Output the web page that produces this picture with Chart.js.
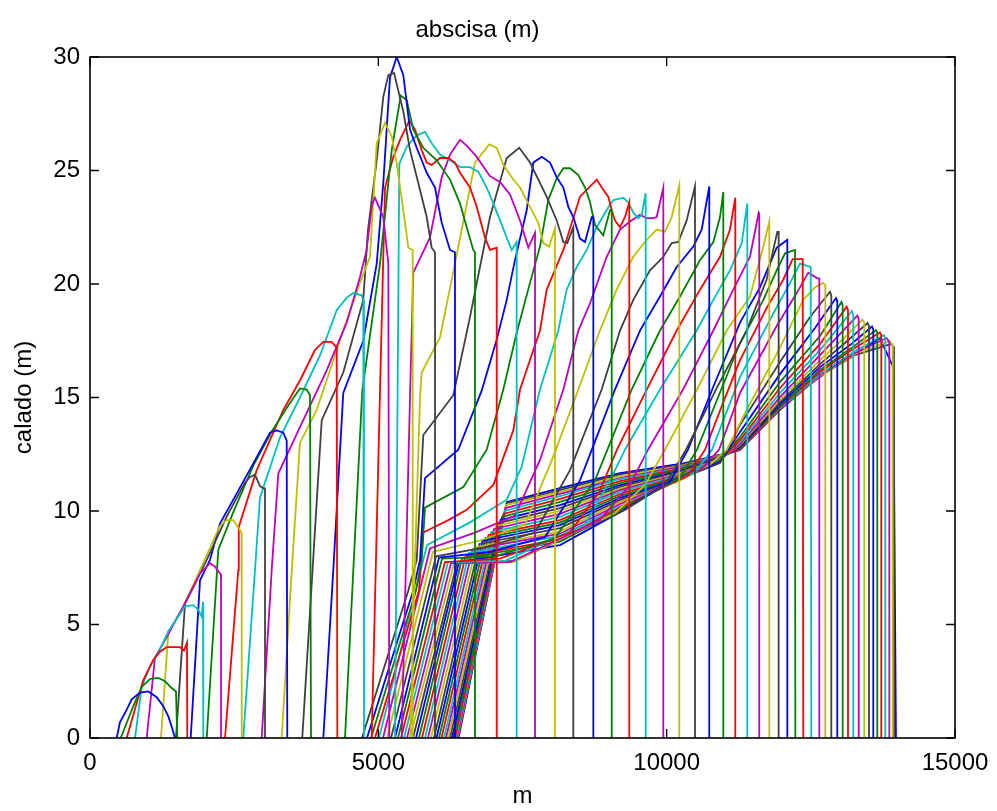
<!DOCTYPE html>
<html>
<head>
<meta charset="utf-8">
<script src="https://cdn.jsdelivr.net/npm/chart.js@4.4.1/dist/chart.umd.min.js"></script>
<style>
  html, body { margin: 0; padding: 0; background: #fff; }
  #wrap { width: 997px; height: 811px; }
</style>
</head>
<body>
<div id="wrap"><canvas id="myChart" width="997" height="811"></canvas></div>
<script>
// depth profiles (abscisa m, calado m), one per time step
var c01 = [[463,0],[520,0.7],[607,1.1],[723,1.7],[867,2.0],[1010,2.05],[1157,1.8],[1271,1.4],[1358,0.95],[1417,0.5],[1474,0]]
var c02 = [[532,0],[751,1.4],[897,2.25],[1040,2.6],[1184,2.65],[1301,2.5],[1417,2.2],[1491,2.05],[1514,0]]
var c03 = [[636,0],[924,2.55],[1098,3.45],[1214,3.8],[1330,4.0],[1561,4.0],[1630,3.85],[1682,4.2],[1687,0]]
var c04 = [[780,0],[897,2.25],[1040,3.15],[1214,3.9],[1358,4.7],[1531,5.35],[1647,5.8],[1791,5.85],[1878,5.65],[1937,5.35],[1960,6.0],[1965,0]]
var c05 = [[983,0],[1127,3.55],[1330,4.45],[1618,5.8],[1908,7.25],[2081,7.7],[2168,7.55],[2254,7.25],[2272,7.2],[2272,0]]
var c06 = [[1231,0],[1358,4.65],[1618,5.8],[1908,7.4],[2254,9.35],[2371,9.6],[2485,9.6],[2601,9.15],[2631,9.0],[2631,0]]
var c07 = [[1491,0],[1647,5.9],[2024,7.85],[2371,9.75],[2687,11.25],[2775,11.5],[2861,11.6],[2948,11.1],[3006,11.0],[3035,11.0],[3035,0]]
var c08 = [[1746,0],[1908,6.95],[2081,7.85],[2254,9.45],[2485,10.5],[2832,12.1],[3121,13.45],[3237,13.55],[3352,13.45],[3411,13.1],[3421,0]]
var c09 = [[2024,0],[2225,8.3],[2485,9.95],[2832,12.0],[3151,13.5],[3439,14.65],[3641,15.4],[3758,15.35],[3815,15.1],[3832,0]]
var c10 = [[2341,0],[2572,7.4],[2580,9.3],[2891,11.8],[3352,14.45],[3641,15.75],[3902,17.1],[4046,17.45],[4191,17.45],[4278,17.2],[4289,0]]
var c11 = [[2658,0],[2861,7.4],[2948,10.6],[3295,13.25],[3641,15.0],[3988,16.85],[4278,18.85],[4451,19.4],[4566,19.6],[4712,19.5],[4739,19.3],[4751,0]]
var c12 = [[2977,0],[3151,7.4],[3265,11.65],[3641,13.7],[4104,16.2],[4451,18.3],[4681,20.3],[4797,21.5],[4890,23.5],[4942,23.8],[5086,22.95],[5173,20.9],[5190,0]]
var c13 = [[3324,0],[3498,7.35],[3641,13.0],[3931,14.45],[4392,17.95],[4681,20.05],[4855,21.2],[4972,26.2],[5116,27.1],[5232,26.5],[5319,25.3],[5433,23.25],[5520,21.6],[5596,21.5],[5596,0]]
var c14 = [[3681,0],[4018,14.0],[4392,16.1],[4739,19.3],[4821,22.4],[4972,25.45],[5086,28.25],[5173,29.2],[5272,29.3],[5433,27.6],[5549,25.9],[5693,24.45],[5839,22.95],[5925,21.6],[5983,21.4],[5983,0]]
var c15 = [[4046,0],[4219,7.4],[4392,15.2],[4739,17.5],[4972,20.9],[5086,24.45],[5202,29.1],[5319,30.0],[5433,29.2],[5549,26.8],[5665,26.0],[5839,24.9],[5983,24.25],[6099,22.7],[6243,21.5],[6329,21.4],[6329,0]]
var c16 = [[4422,0],[4566,7.4],[4722,15.3],[5029,20.9],[5232,25.9],[5388,28.3],[5492,28.1],[5606,26.8],[5780,26.0],[6012,25.45],[6243,24.6],[6416,23.55],[6532,22.5],[6647,21.5],[6676,21.4],[6676,0]]
var c17 = [[4885,0],[5029,15.3],[5076,20.15],[5116,24.25],[5260,25.6],[5376,26.35],[5537,27.2],[5636,26.8],[5752,25.9],[5839,25.35],[5925,25.25],[6069,25.55],[6213,25.55],[6329,25.35],[6416,24.9],[6590,24.25],[6706,23.4],[6849,22.05],[6936,21.5],[7053,21.6],[7053,0]]
var c18 = [[5289,0],[5364,25.3],[5492,26.05],[5665,26.55],[5809,26.7],[5925,26.2],[6069,25.7],[6243,25.45],[6416,25.15],[6590,25.15],[6734,24.95],[6879,24.25],[6994,23.55],[7110,22.8],[7226,22.05],[7313,21.5],[7399,21.85],[7399,0]]
var c19 = [[5405,0],[5549,15.0],[5606,20.5],[5896,22.05],[6099,24.7],[6243,25.7],[6416,26.35],[6532,26.1],[6706,25.6],[6936,24.75],[7110,24.5],[7283,23.95],[7457,22.8],[7601,21.6],[7717,22.25],[7717,0]]
var c20 = [[5554,0],[5636,7.85],[5723,15.0],[5752,16.1],[6069,17.65],[6329,20.9],[6676,25.35],[6924,26.15],[7053,26.0],[7167,25.25],[7340,24.6],[7457,24.25],[7630,23.4],[7774,22.7],[7861,21.8],[7960,21.65],[8064,22.45],[8064,0]]
var c21 = [[4716,0],[5520,6.5],[5665,7.85],[5780,13.35],[6300,15.1],[6590,18.55],[6936,22.95],[7226,25.55],[7444,26.0],[7630,25.35],[7919,23.85],[8093,22.8],[8208,21.85],[8277,21.8],[8381,22.5],[8381,0]]
var c22 = [[4803,0],[5606,6.5],[5723,7.85],[5809,11.45],[6386,12.7],[6792,15.3],[7053,17.55],[7226,19.3],[7369,21.05],[7573,23.25],[7687,25.35],[7833,25.6],[7977,25.35],[8093,24.7],[8208,24.25],[8295,23.4],[8381,22.95],[8497,22.0],[8584,21.85],[8700,22.95],[8728,22.95],[8728,0]]
var c23 = [[4873,0],[5653,6.5],[5752,7.85],[5809,10.15],[6474,11.05],[6879,12.7],[7167,15.35],[7399,17.85],[7630,20.05],[7803,21.65],[7947,23.7],[8093,24.65],[8208,25.1],[8324,25.1],[8468,24.8],[8584,24.25],[8671,23.6],[8757,22.6],[8901,22.15],[9017,23.25],[9047,23.25],[9047,0]]
var c24 = [[4942,0],[5705,6.5],[5780,9.05],[6213,9.6],[6532,10.05],[6994,11.15],[7340,13.55],[7457,15.35],[7803,17.95],[7919,19.75],[8208,21.5],[8497,23.85],[8787,24.6],[8901,24.15],[8988,23.85],[9047,23.25],[9103,22.8],[9190,22.5],[9277,22.95],[9352,23.6],[9352,0]]
var c25 = [[5012,0],[5844,8.5],[6590,9.5],[7226,10.5],[7486,11.95],[7803,15.35],[8121,17.95],[8266,19.75],[8440,20.75],[8613,21.5],[8787,22.5],[9017,23.5],[9075,23.7],[9248,23.8],[9335,23.6],[9421,23.15],[9508,22.9],[9567,23.05],[9636,24.0],[9636,0]]
var c26 = [[5081,0],[5896,8.35],[6676,9.05],[7369,9.8],[7803,12.25],[8208,15.35],[8468,17.95],[8671,19.15],[8960,21.2],[9191,22.4],[9364,22.75],[9537,23.05],[9654,22.9],[9768,22.9],[9827,22.95],[9942,24.25],[9942,0]]
var c27 = [[5150,0],[5948,8.2],[6763,8.7],[7543,9.4],[8011,12.25],[8468,15.35],[8843,17.95],[9133,19.75],[9421,21.2],[9654,21.95],[9827,22.4],[9971,22.3],[10088,22.95],[10219,24.35],[10219,0]]
var c28 = [[5220,0],[6000,8.0],[6850,8.4],[7717,9.05],[8324,11.8],[8873,15.35],[9191,17.95],[9421,19.3],[9711,20.6],[9942,21.2],[10088,21.8],[10202,21.85],[10347,22.8],[10491,24.3],[10491,0]]
var c29 = [[5289,0],[6052,7.95],[6936,8.2],[7890,8.85],[8497,11.35],[9103,15.35],[9537,17.95],[9884,19.45],[10174,20.75],[10462,21.65],[10608,22.4],[10739,24.3],[10739,0]]
var c30 = [[5341,0],[6104,7.9],[7023,8.0],[8064,8.8],[8757,11.35],[9393,15.35],[9884,17.95],[10231,19.45],[10578,21.05],[10809,21.85],[10925,22.95],[10982,24.05],[10982,0]]
var c31 = [[5393,0],[6155,7.75],[7110,7.9],[8324,9.05],[8843,10.9],[9138,12.7],[9654,15.35],[10174,17.95],[10578,19.75],[10925,21.2],[11098,22.4],[11190,23.8],[11190,0]]
var c32 = [[5445,0],[6207,7.75],[7197,7.8],[8584,9.4],[9017,11.35],[9277,12.7],[9884,15.35],[10521,17.95],[10809,19.3],[11098,20.6],[11301,21.8],[11398,23.55],[11398,0]]
var c33 = [[5497,0],[6260,7.7],[7283,7.75],[8843,9.6],[9364,11.15],[9676,12.7],[10283,15.35],[10809,17.95],[11155,19.75],[11445,21.2],[11596,23.15],[11606,23.1],[11606,0]]
var c34 = [[5549,0],[6312,7.7],[7335,7.75],[9103,9.9],[9624,11.15],[9971,12.7],[10526,15.35],[11041,17.95],[11445,19.45],[11676,21.65],[11780,22.75],[11780,0]]
var c35 = [[5601,0],[6364,7.7],[7370,7.8],[9277,10.05],[9971,11.15],[10335,12.7],[10855,15.35],[11387,17.95],[11734,20.2],[11918,22.3],[11942,22.3],[11942,0]]
var c36 = [[5653,0],[6399,7.75],[8150,8.5],[9191,9.95],[10058,11.3],[10370,12.7],[10821,15.55],[11272,18.3],[11618,19.85],[11908,21.6],[12092,21.95],[12092,0]]
var c37 = [[5705,0],[6451,7.9],[8150,8.65],[9191,10.05],[10231,11.45],[10525,12.7],[10890,15.0],[11272,17.4],[11676,19.3],[11908,20.6],[12052,21.35],[12225,21.5],[12231,0]]
var c38 = [[5757,0],[6512,8.0],[8150,8.75],[9191,10.15],[10370,11.55],[10665,12.7],[10960,14.65],[11272,16.65],[11735,18.95],[12023,20.2],[12185,21.1],[12359,21.1],[12369,0]]
var c39 = [[5809,0],[6572,8.15],[8150,8.9],[9191,10.2],[10491,11.7],[10786,12.7],[11029,14.3],[11272,15.9],[11849,18.7],[12139,20.05],[12312,20.9],[12498,20.75],[12508,0]]
var c40 = [[5861,0],[6633,8.3],[8150,9.0],[9191,10.3],[10613,11.85],[10907,12.7],[11098,14.0],[11272,15.2],[11908,18.15],[12255,19.6],[12456,20.5],[12612,20.25],[12647,20.25],[12647,0]]
var c41 = [[5913,0],[6694,8.4],[8150,9.1],[9191,10.4],[10231,11.35],[10751,12.05],[11046,12.7],[11387,14.45],[11965,17.2],[12369,19.3],[12572,19.85],[12711,20.05],[12751,19.95],[12751,0]]
var c42 = [[5965,0],[6754,8.55],[8150,9.25],[9191,10.48],[10231,11.41],[10925,12.11],[11272,13.79],[11965,16.56],[12486,18.55],[12832,19.66],[12855,19.5],[12855,0]]
var c43 = [[6009,0],[6806,8.68],[8150,9.38],[9191,10.57],[10231,11.45],[10925,12.16],[11272,13.48],[11965,16.03],[12572,18.06],[12936,19.38],[12959,19.25],[12959,0]]
var c44 = [[6052,0],[6858,8.81],[8150,9.49],[9191,10.66],[10231,11.5],[10925,12.2],[11272,13.26],[11965,15.68],[12659,17.71],[13032,19.21],[13052,19.05],[13052,0]]
var c45 = [[6095,0],[6911,8.94],[8150,9.6],[9191,10.75],[10231,11.54],[10925,12.22],[11272,13.13],[11965,15.42],[12659,17.36],[13122,19.0],[13144,18.85],[13144,0]]
var c46 = [[6139,0],[6962,9.07],[8150,9.74],[9191,10.84],[10231,11.59],[10925,12.25],[11272,13.04],[11965,15.2],[12659,17.09],[13214,18.81],[13236,18.65],[13236,0]]
var c47 = [[6173,0],[7006,9.21],[8150,9.87],[9191,10.92],[10231,11.63],[10925,12.27],[11272,12.95],[11965,15.02],[12659,16.87],[13306,18.61],[13330,18.45],[13330,0]]
var c48 = [[6208,0],[7049,9.34],[8150,10.0],[9191,10.99],[10231,11.67],[10925,12.29],[11272,12.91],[11965,14.89],[12659,16.65],[13092,17.66],[13396,18.43],[13427,18.3],[13427,0]]
var c49 = [[6243,0],[7084,9.47],[8150,10.13],[9191,11.06],[10231,11.72],[10925,12.31],[11272,12.86],[11965,14.8],[12659,16.47],[13092,17.4],[13483,18.28],[13509,18.15],[13509,0]]
var c50 = [[6277,0],[7118,9.6],[8150,10.26],[9191,11.14],[10231,11.76],[10925,12.33],[11272,12.82],[11965,14.71],[12659,16.34],[13179,17.31],[13561,18.13],[13583,18.0],[13583,0]]
var c51 = [[6303,0],[7144,9.74],[8150,10.4],[9191,11.23],[10231,11.81],[10925,12.36],[11272,12.77],[11965,14.62],[12659,16.21],[13179,17.14],[13630,17.97],[13652,17.85],[13652,0]]
var c52 = [[6329,0],[7171,9.87],[8150,10.53],[9191,11.32],[10231,11.85],[10925,12.38],[11272,12.73],[11965,14.58],[12659,16.12],[13179,17.05],[13699,17.86],[13722,17.75],[13722,0]]
var c53 = [[6347,0],[7188,10.0],[8150,10.66],[9191,11.41],[10231,11.89],[10925,12.4],[11272,12.73],[11965,14.54],[12659,16.03],[13266,17.05],[13769,17.75],[13791,17.6],[13791,0]]
var c54 = [[6364,0],[7205,10.13],[8150,10.75],[9191,11.45],[10231,11.94],[10925,12.42],[11272,12.69],[11965,14.49],[12659,15.99],[13266,16.96],[13812,17.62],[13861,17.45],[13861,0]]
var c55 = [[6373,0],[7214,10.26],[8150,10.84],[9191,11.54],[10231,11.98],[10925,12.44],[11272,12.69],[11965,14.49],[12659,15.95],[13266,16.92],[13864,17.49],[13920,17.3],[13920,0]]
var c56 = [[6381,0],[7223,10.35],[8150,10.92],[9191,11.61],[10231,12.03],[10925,12.47],[11272,12.69],[11965,14.45],[12659,15.95],[13266,16.87],[13899,17.36],[13942,17.2],[13942,0]]
var c57 = [[6390,0],[7231,10.4],[8150,11.01],[9191,11.67],[10231,12.07],[10925,12.47],[11272,12.69],[11936,14.45],[12428,15.46],[12889,16.34],[13295,16.96],[13699,17.61],[13930,16.34],[13976,0]]

var profiles = [c01,c02,c03,c04,c05,c06,c07,c08,c09,c10,c11,c12,c13,c14,c15,c16,c17,c18,c19,c20,
                c21,c22,c23,c24,c25,c26,c27,c28,c29,c30,c31,c32,c33,c34,c35,c36,c37,c38,c39,c40,
                c41,c42,c43,c44,c45,c46,c47,c48,c49,c50,c51,c52,c53,c54,c55,c56,c57]

// matlab style colour order
var lineColors = ['#0000ff', '#008000', '#ff0000', '#00bfbf', '#bf00bf', '#bfbf00', '#404040']

var xTicks = [0, 5000, 10000, 15000]
var yTicks = [0, 5, 10, 15, 20, 25, 30]

Chart.defaults.font.family = "'Liberation Sans', Arial, sans-serif"
Chart.defaults.color = '#000'

// box around the axes with inward ticks
var boxTicks = {
    id: 'boxTicks',
    afterDatasetsDraw: function(chart){
        var ctx = chart.ctx
        var a = chart.chartArea
        var sx = chart.scales.x
        var sy = chart.scales.y
        ctx.save()
        ctx.strokeStyle = '#000'
        ctx.lineWidth = 1.3
        ctx.beginPath()
        xTicks.forEach(function(v){
            var px = sx.getPixelForValue(v)
            ctx.moveTo(px, a.bottom); ctx.lineTo(px, a.bottom - 9)
            ctx.moveTo(px, a.top); ctx.lineTo(px, a.top + 9)
        })
        yTicks.forEach(function(v){
            var py = sy.getPixelForValue(v)
            ctx.moveTo(a.left, py); ctx.lineTo(a.left + 9, py)
            ctx.moveTo(a.right, py); ctx.lineTo(a.right - 9, py)
        })
        ctx.stroke()
        ctx.lineWidth = 1.6
        ctx.strokeRect(a.left, a.top, a.right - a.left, a.bottom - a.top)
        ctx.restore()
    }
}

var datasets = profiles.map(function(p, i){
    return {
        data: p.map(function(pt){ return {x: pt[0], y: pt[1]} }),
        borderColor: lineColors[i % 7],
        backgroundColor: lineColors[i % 7],
        borderWidth: 1.8,
        pointRadius: 0,
        tension: 0,
        fill: false
    }
})

var ctx = document.getElementById('myChart').getContext('2d')
var chart = new Chart(ctx, {
    type: 'line',
    data: { datasets: datasets },
    plugins: [boxTicks],
    options: {
        responsive: false,
        animation: false,
        devicePixelRatio: 1,
        layout: { padding: { left: 0, right: 42, top: 0, bottom: 0 } },
        plugins: {
            legend: { display: false },
            tooltip: { enabled: false },
            title: {
                display: true,
                text: 'abscisa (m)',
                font: { size: 24, weight: 'normal' },
                color: '#000',
                padding: { top: 16, bottom: 12.2 }
            }
        },
        scales: {
            x: {
                type: 'linear',
                min: 0,
                max: 15000,
                afterBuildTicks: function(scale){ scale.ticks = xTicks.map(function(v){ return {value: v} }) },
                afterFit: function(scale){
                    scale.height = 73
                    scale.paddingLeft = 0
                    scale.paddingRight = 0
                },
                grid: { display: false, drawTicks: false },
                border: { display: false },
                ticks: {
                    font: { size: 24 },
                    color: '#000',
                    padding: 11,
                    maxRotation: 0,
                    callback: function(v){ return String(v) }
                },
                title: { display: true, text: 'm', font: { size: 24 }, color: '#000', padding: { top: 0, bottom: 0 } }
            },
            y: {
                type: 'linear',
                min: 0,
                max: 30,
                afterBuildTicks: function(scale){ scale.ticks = yTicks.map(function(v){ return {value: v} }) },
                afterFit: function(scale){ scale.width = 90 },
                grid: { display: false, drawTicks: false },
                border: { display: false },
                ticks: { font: { size: 24 }, color: '#000', padding: 10 },
                title: { display: true, text: 'calado (m)', font: { size: 24 }, color: '#000', padding: { top: 10, bottom: 0 } }
            }
        }
    }
})
</script>
</body>
</html>
